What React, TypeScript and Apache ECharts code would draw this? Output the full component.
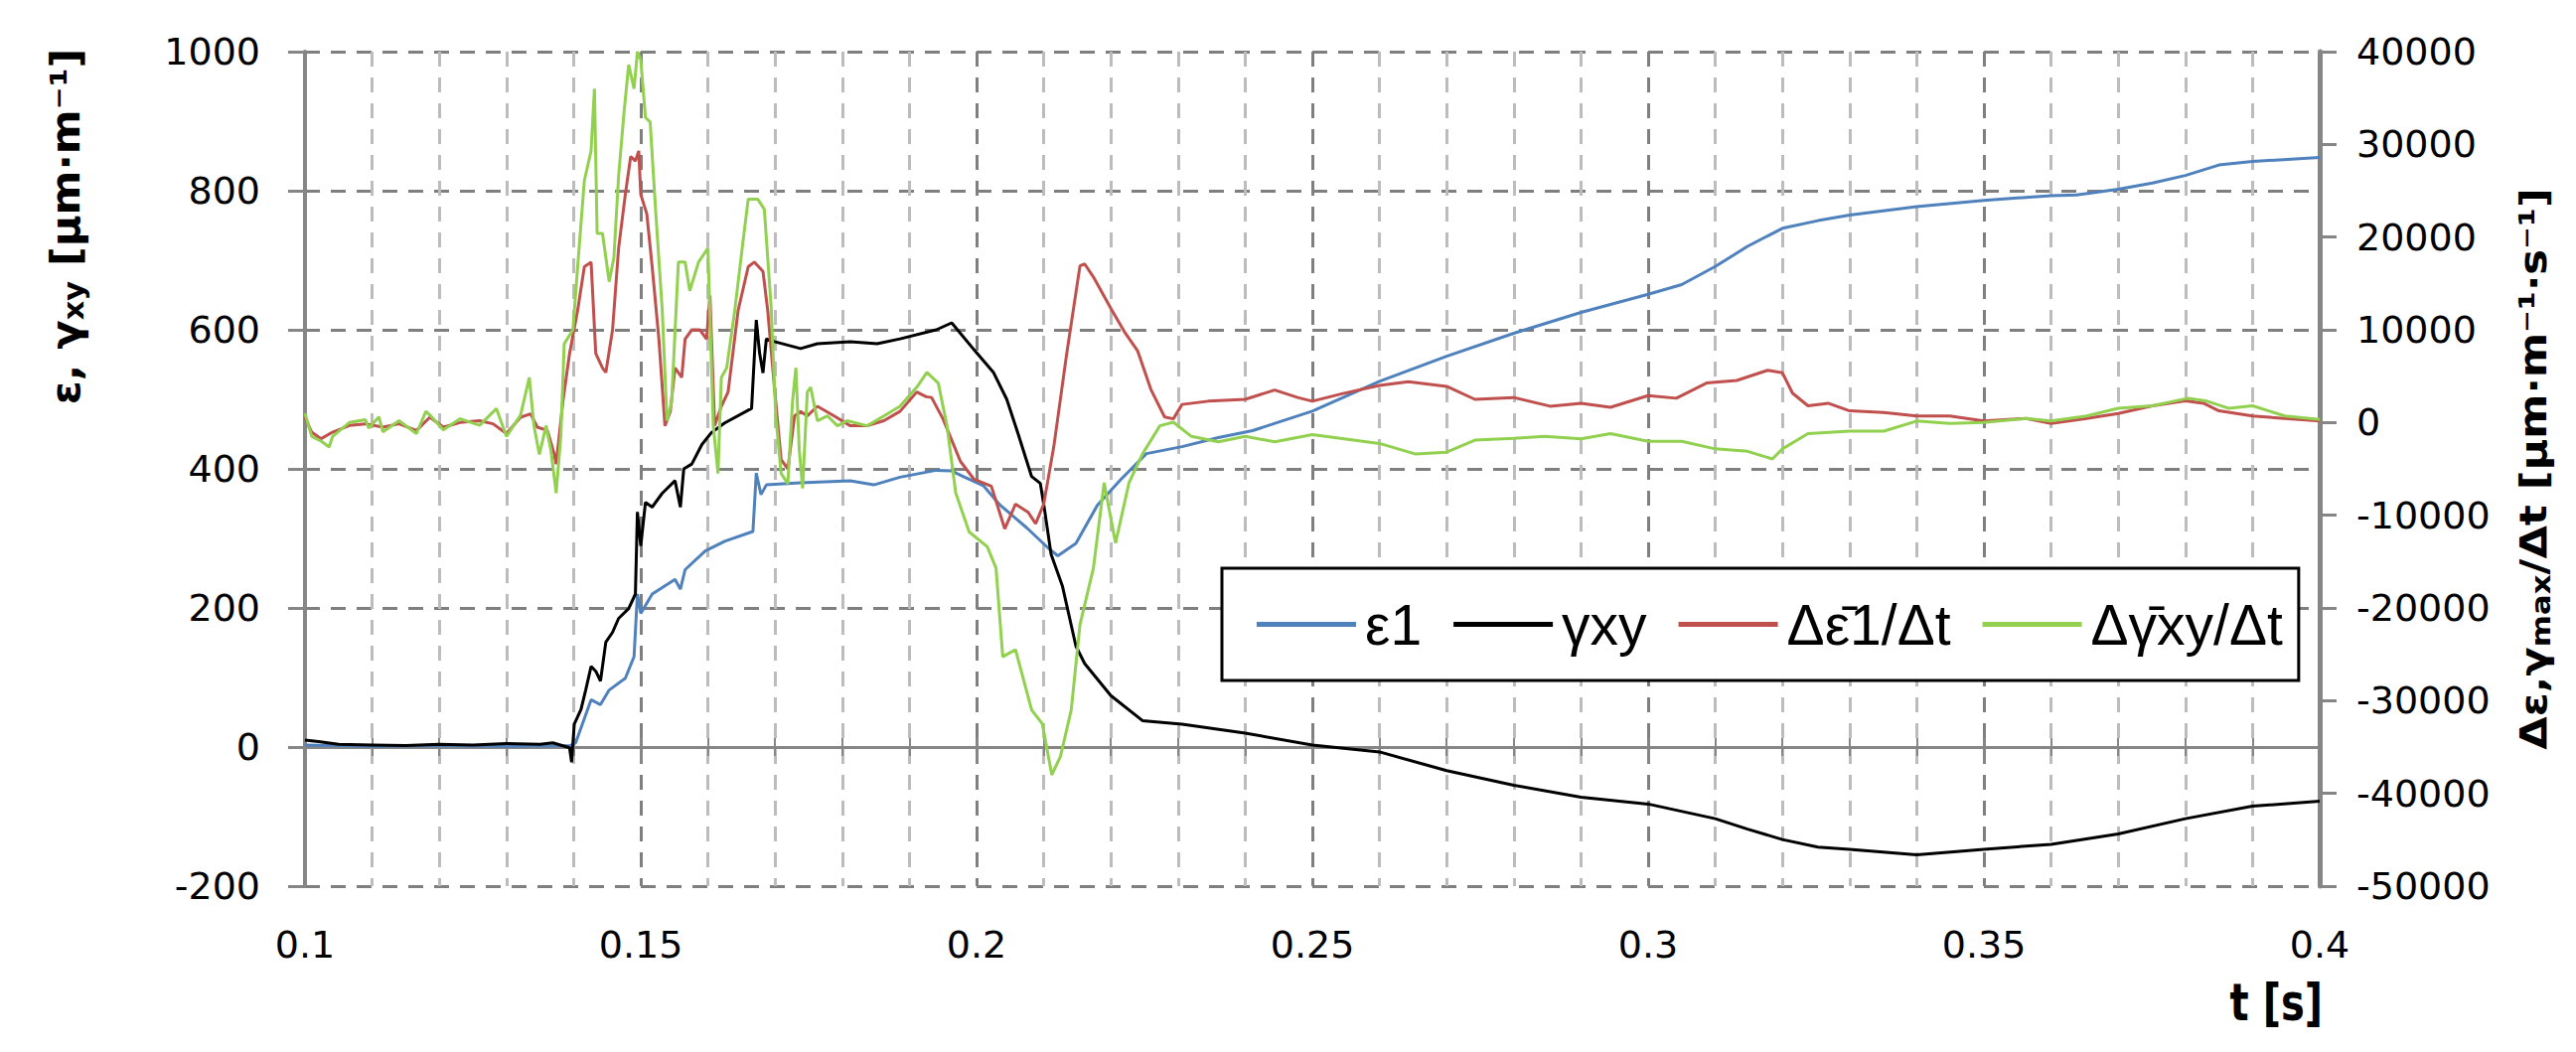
import React, { useEffect, useRef } from "react";
import * as echarts from "echarts";

// ---- data ----
const tE1 = [0.1, 0.11, 0.12, 0.13, 0.1395, 0.1403, 0.1413, 0.1426, 0.144, 0.1453, 0.1477, 0.149, 0.1495, 0.15, 0.1517, 0.1551, 0.1559, 0.1566, 0.1596, 0.1625, 0.1667, 0.1672, 0.1679, 0.1687, 0.1738, 0.1812, 0.1847, 0.1886, 0.194, 0.1963, 0.198, 0.201, 0.2035, 0.2075, 0.2108, 0.2121, 0.2148, 0.218, 0.2214, 0.2253, 0.2306, 0.236, 0.2411, 0.25, 0.26, 0.27, 0.28, 0.29, 0.3, 0.305, 0.31, 0.3148, 0.32, 0.3253, 0.33, 0.34, 0.35, 0.36, 0.3638, 0.37, 0.3751, 0.38, 0.385, 0.39, 0.4];
const vE1 = [3, 1, 2, 1, 2, 6, 33, 68, 61, 82, 99, 130, 220, 192, 220, 241, 227, 255, 282, 296, 310, 394, 363, 377, 380, 383, 377, 388, 398, 397, 389, 376, 348, 315, 285, 275, 293, 348, 384, 422, 432, 445, 455, 483, 526, 562, 595, 625, 651, 665, 691, 720, 746, 757, 765, 777, 786, 793, 794, 802, 811, 822, 837, 842, 848];

const tGxy = [0.1, 0.102, 0.105, 0.11, 0.115, 0.12, 0.125, 0.13, 0.135, 0.1369, 0.1394, 0.1397, 0.1401, 0.1411, 0.1418, 0.1426, 0.1433, 0.144, 0.1448, 0.1458, 0.1467, 0.1482, 0.1492, 0.1495, 0.15, 0.1507, 0.1517, 0.1532, 0.1551, 0.1559, 0.1564, 0.1576, 0.1591, 0.1605, 0.1625, 0.1665, 0.1672, 0.1677, 0.1682, 0.1687, 0.1699, 0.1738, 0.1763, 0.1812, 0.1852, 0.1886, 0.194, 0.1963, 0.2, 0.2025, 0.2045, 0.2062, 0.2082, 0.2095, 0.2101, 0.2111, 0.2128, 0.2148, 0.2161, 0.22, 0.2247, 0.2306, 0.24, 0.25, 0.26, 0.27, 0.28, 0.29, 0.3, 0.31, 0.3148, 0.32, 0.3253, 0.33, 0.34, 0.35, 0.36, 0.37, 0.38, 0.39, 0.4];
const vGxy = [10, 8, 4, 3, 2, 4, 3, 5, 4, 6, -1, -22, 33, 54, 82, 116, 109, 95, 151, 165, 185, 199, 220, 338, 289, 352, 345, 365, 383, 345, 400, 407, 435, 452, 466, 487, 614, 566, 538, 587, 583, 573, 580, 583, 580, 587, 600, 610, 567, 539, 500, 450, 389, 379, 343, 277, 231, 145, 120, 74, 38, 33, 20, 3, -7, -34, -55, -72, -82, -103, -118, -133, -144, -147, -155, -147, -140, -125, -103, -85, -78];

const tDE1 = [0.1, 0.101, 0.1024, 0.1041, 0.1066, 0.109, 0.1116, 0.114, 0.1166, 0.1186, 0.1206, 0.1231, 0.126, 0.128, 0.13, 0.1321, 0.1336, 0.1346, 0.1361, 0.1371, 0.1374, 0.1384, 0.1394, 0.1406, 0.1416, 0.1426, 0.1433, 0.1443, 0.1448, 0.1458, 0.1467, 0.1477, 0.1485, 0.1492, 0.1497, 0.15, 0.1509, 0.1517, 0.1527, 0.1536, 0.1544, 0.1551, 0.1561, 0.1566, 0.1576, 0.1588, 0.1598, 0.1603, 0.161, 0.162, 0.163, 0.1645, 0.166, 0.1669, 0.1682, 0.1689, 0.1699, 0.1709, 0.1719, 0.1729, 0.1738, 0.1748, 0.1763, 0.1788, 0.1812, 0.1837, 0.1862, 0.1886, 0.1911, 0.1925, 0.1933, 0.195, 0.1976, 0.1996, 0.2022, 0.2042, 0.2058, 0.2077, 0.2088, 0.21, 0.2115, 0.2134, 0.2154, 0.2161, 0.2174, 0.22, 0.222, 0.224, 0.226, 0.228, 0.2293, 0.2306, 0.2345, 0.24, 0.2444, 0.2478, 0.25, 0.2544, 0.26, 0.2643, 0.27, 0.2742, 0.28, 0.2854, 0.29, 0.2944, 0.3, 0.3042, 0.3087, 0.3132, 0.3178, 0.32, 0.3215, 0.3238, 0.3268, 0.33, 0.3351, 0.34, 0.3449, 0.35, 0.3563, 0.36, 0.3653, 0.37, 0.3751, 0.38, 0.3827, 0.385, 0.39, 0.3948, 0.4];
const vDE1 = [570, -1040, -1750, -1040, -320, -140, -500, -140, -860, 570, -500, 0, 200, -140, -1200, 570, 930, -500, -860, -3350, -4500, 2260, 7450, 12100, 16800, 17300, 7450, 5900, 5400, 10000, 18800, 24600, 28700, 28200, 29300, 24600, 22500, 16800, 9000, -350, 1200, 5900, 4860, 9000, 10000, 10000, 9000, 13700, -350, 1750, 3290, 12100, 16800, 17300, 16300, 12100, 3800, -4000, -5000, 710, 1200, 710, 1750, 710, -350, -350, 190, 1200, 3290, 2780, 2700, 400, -4200, -6100, -6860, -11460, -8800, -9700, -10900, -8800, -2600, 7300, 16900, 17100, 15700, 12300, 9800, 7700, 3500, 600, 400, 1950, 2300, 2500, 3500, 2700, 2300, 3100, 4000, 4400, 3900, 2500, 2700, 1760, 2080, 1640, 2900, 2620, 4260, 4540, 5630, 5360, 3170, 1800, 2080, 1260, 1090, 710, 710, 160, 440, -110, 440, 980, 1800, 2350, 2080, 1260, 710, 440, 160];

const tDG = [0.1, 0.101, 0.1024, 0.1036, 0.1041, 0.1066, 0.109, 0.1095, 0.111, 0.1116, 0.114, 0.1166, 0.118, 0.1186, 0.1206, 0.1231, 0.126, 0.1285, 0.13, 0.1321, 0.1334, 0.1341, 0.1349, 0.1359, 0.1366, 0.1374, 0.1381, 0.1386, 0.1399, 0.1406, 0.1416, 0.1426, 0.1431, 0.1435, 0.1443, 0.1453, 0.146, 0.1467, 0.1475, 0.1482, 0.149, 0.1495, 0.15, 0.1507, 0.1514, 0.1522, 0.1532, 0.1539, 0.1546, 0.1556, 0.1566, 0.1573, 0.1586, 0.16, 0.1608, 0.1615, 0.162, 0.1628, 0.164, 0.1652, 0.166, 0.1674, 0.1684, 0.1694, 0.1701, 0.1709, 0.1719, 0.1726, 0.1731, 0.1736, 0.1741, 0.1748, 0.1753, 0.1763, 0.1778, 0.1793, 0.1807, 0.1837, 0.1862, 0.1886, 0.1911, 0.1926, 0.1943, 0.1956, 0.1969, 0.1989, 0.2016, 0.2029, 0.2039, 0.2058, 0.2082, 0.2098, 0.2112, 0.2125, 0.2141, 0.2154, 0.2174, 0.219, 0.2207, 0.2227, 0.2247, 0.2273, 0.2293, 0.232, 0.236, 0.24, 0.2444, 0.25, 0.26, 0.2654, 0.27, 0.2742, 0.28, 0.2846, 0.29, 0.2944, 0.3, 0.305, 0.31, 0.3148, 0.3185, 0.32, 0.3238, 0.33, 0.3351, 0.34, 0.3449, 0.35, 0.3563, 0.36, 0.3653, 0.37, 0.3751, 0.3804, 0.383, 0.3865, 0.39, 0.3948, 0.4];
const vDG = [1000, -1500, -2000, -2640, -1500, 0, 300, -600, 600, -1000, 200, -1200, 1200, 800, -800, 400, -300, 1500, -1500, 800, 4860, -350, -3450, -350, -2900, -7600, -1400, 8490, 10000, 16800, 26100, 29300, 36000, 20400, 20400, 15200, 17800, 26600, 33400, 38600, 36000, 40000, 39100, 32900, 32400, 23000, 12100, 190, 2260, 17300, 17300, 14200, 17300, 18800, -350, -5500, 4860, 5900, 12100, 19400, 24100, 24100, 23000, 12600, 710, -5500, -6600, 2260, 5900, -2900, -7100, 3290, 3800, 190, 710, -350, 190, -350, 710, 1750, 3800, 5400, 4250, -350, -7600, -11800, -13400, -15700, -25260, -24500, -31000, -32500, -38000, -36000, -31000, -21800, -15700, -6500, -13000, -6500, -3400, -350, 40, -1500, -2070, -1500, -2070, -1300, -2260, -3400, -3200, -1900, -1700, -1480, -1750, -1200, -2020, -2020, -2840, -3110, -3930, -2840, -1200, -930, -930, 160, -110, 0, 440, 160, 710, 1530, 1800, 2620, 2350, 1530, 1800, 710, 330];

const seriesNames = ["ε1", "γxy", "Δε\u03041/Δt", "Δγ\u0304xy/Δt"];
const seriesColors = ["#4f81bd", "#000000", "#c0504d", "#92d050"];
const xTicks = { min: 0.1, max: 0.4, step: 0.05 };
const yLeftTicks = { min: -200, max: 1000, step: 200 };
const yRightTicks = { min: -50000, max: 40000, step: 10000 };

const zip = (ts: number[], vs: number[]) => ts.map((t, i) => [t, vs[i]]);

const GRID = { left: 307, right: 258, top: 52, bottom: 167 };
const AXIS_GREY = "#868686";
const TICK_FONT = "DejaVu Sans";
const DASH = [15, 11];

export default function App() {
  const ref = useRef<HTMLDivElement>(null);
  useEffect(() => {
    document.body.style.margin = "0";
    if (!ref.current) return;
    const chart = echarts.init(ref.current, null, { renderer: "svg" });
    const zeroAxis = (inside: boolean) => ({
      type: "value",
      min: xTicks.min,
      max: xTicks.max,
      interval: xTicks.step,
      position: "bottom",
      axisLine: { show: !inside, onZero: true, onZeroAxisIndex: 0, lineStyle: { color: AXIS_GREY, width: 3 } },
      axisTick: { show: true, inside, length: inside ? 9 : 16, lineStyle: { color: AXIS_GREY, width: 3 } },
      minorTick: { show: true, splitNumber: 5, length: 9, lineStyle: { color: AXIS_GREY, width: 2 } },
      axisLabel: { show: false },
      splitLine: { show: false },
    });
    const option: any = {
      animation: false,
      backgroundColor: "#ffffff",
      grid: { ...GRID, containLabel: false },
      xAxis: [
        {
          type: "value",
          min: xTicks.min,
          max: xTicks.max,
          interval: xTicks.step,
          position: "bottom",
          axisLine: { show: false, onZero: false },
          axisTick: { show: false },
          minorTick: { show: false, splitNumber: 5 },
          axisLabel: {
            fontSize: 38,
            fontFamily: TICK_FONT,
            color: "#000",
            margin: 40,
            formatter: (v: number) => String(Math.round(v * 100) / 100),
          },
          splitLine: { show: true, lineStyle: { color: "#7f7f7f", width: 3, type: DASH } },
          minorSplitLine: { show: true, lineStyle: { color: "#bcbcbc", width: 3, type: DASH } },
        },
        zeroAxis(false),
        zeroAxis(true),
      ],
      yAxis: [
        {
          type: "value",
          min: yLeftTicks.min,
          max: yLeftTicks.max,
          interval: yLeftTicks.step,
          position: "left",
          axisLine: { show: true, onZero: false, lineStyle: { color: AXIS_GREY, width: 4 } },
          axisTick: { show: true, length: 17, lineStyle: { color: AXIS_GREY, width: 3 } },
          axisLabel: { fontSize: 38, fontFamily: TICK_FONT, color: "#000", margin: 45, formatter: (v: number) => String(v) },
          splitLine: { show: true, lineStyle: { color: "#7f7f7f", width: 3, type: DASH } },
        },
        {
          type: "value",
          min: yRightTicks.min,
          max: yRightTicks.max,
          interval: yRightTicks.step,
          position: "right",
          axisLine: { show: true, onZero: false, lineStyle: { color: AXIS_GREY, width: 5 } },
          axisTick: { show: true, length: 17, lineStyle: { color: AXIS_GREY, width: 3 } },
          axisLabel: { fontSize: 38, fontFamily: TICK_FONT, color: "#000", margin: 37, formatter: (v: number) => String(v) },
          splitLine: { show: false },
        },
      ],
      legend: {
        show: true,
        left: 1230,
        top: 572,
        orient: "horizontal",
        backgroundColor: "#ffffff",
        borderColor: "#000000",
        borderWidth: 3,
        borderRadius: 0,
        padding: [28, 16, 28, 35],
        itemGap: 32,
        itemWidth: 100,
        itemHeight: 5,
        icon: "rect",
        textStyle: { fontSize: 57, fontFamily: "Liberation Sans", color: "#000", padding: [0, 0, 0, 4] },
        data: seriesNames,
      },
      series: [
        { data: zip(tE1, vE1), yAxisIndex: 0 },
        { data: zip(tGxy, vGxy), yAxisIndex: 0 },
        { data: zip(tDE1, vDE1), yAxisIndex: 1 },
        { data: zip(tDG, vDG), yAxisIndex: 1 },
      ].map((s, i) => ({
        type: "line",
        name: seriesNames[i],
        xAxisIndex: 0,
        yAxisIndex: s.yAxisIndex,
        data: s.data,
        symbol: "none",
        showSymbol: false,
        color: seriesColors[i],
        itemStyle: { color: seriesColors[i] },
        lineStyle: { color: seriesColors[i], width: 3 },
        z: 3,
      })),
      graphic: [
        {
          type: "text",
          x: 66,
          y: 228,
          rotation: Math.PI / 2,
          scaleX: 1.08,
          style: {
            text: "{a|ε, γ}{b|xy}{a| [μm·m⁻¹]}",
            fill: "#000",
            align: "center",
            verticalAlign: "middle",
            textAlign: "center",
            textVerticalAlign: "middle",
            rich: {
              a: { fontSize: 40, fontWeight: "bold", fontFamily: "DejaVu Sans", fill: "#000" },
              b: { fontSize: 28, fontWeight: "bold", fontFamily: "DejaVu Sans", fill: "#000", padding: [16, 0, 0, 0] },
            },
          },
        },
        {
          type: "text",
          x: 2550,
          y: 472,
          rotation: Math.PI / 2,
          scaleX: 1.14,
          style: {
            text: "{a|Δε,γ}{b|max}{a|/Δt [μm·m⁻¹·s⁻¹]}",
            fill: "#000",
            align: "center",
            verticalAlign: "middle",
            textAlign: "center",
            textVerticalAlign: "middle",
            rich: {
              a: { fontSize: 38, fontWeight: "bold", fontFamily: "DejaVu Sans", fill: "#000" },
              b: { fontSize: 27, fontWeight: "bold", fontFamily: "DejaVu Sans", fill: "#000", padding: [16, 0, 0, 0] },
            },
          },
        },
        {
          type: "text",
          x: 2338,
          y: 1009,
          scaleY: 1.3,
          style: {
            text: "t [s]",
            fill: "#000",
            fontSize: 40,
            fontWeight: "bold",
            fontFamily: "DejaVu Sans",
            align: "right",
            verticalAlign: "middle",
            textAlign: "right",
            textVerticalAlign: "middle",
          },
        },
      ],
    };
    chart.setOption(option);
    return () => chart.dispose();
  }, []);
  return <div ref={ref} style={{ width: 2593, height: 1059 }} />;
}
